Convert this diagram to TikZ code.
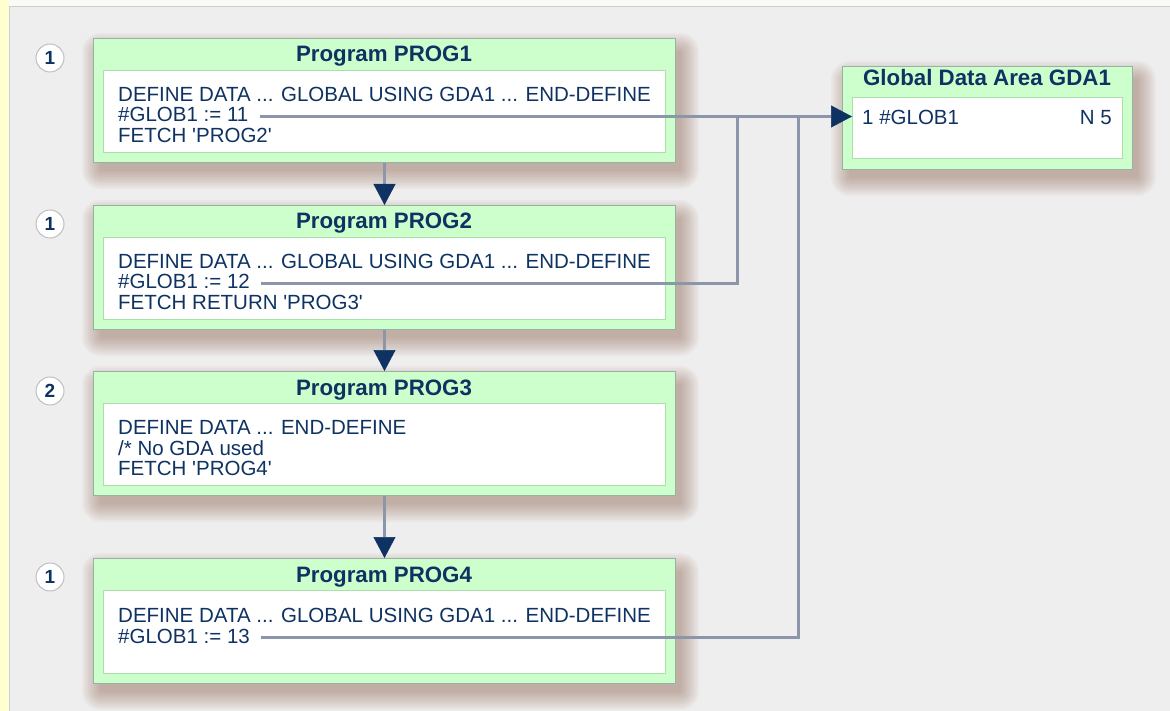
\documentclass[tikz,border=0pt]{standalone}
\usepackage{fontspec}
\setmainfont{Liberation Sans}
\usetikzlibrary{arrows.meta,calc}
\definecolor{boxfill}{RGB}{204,255,204}
\definecolor{boxborder}{RGB}{150,178,165}
\definecolor{innerborder}{RGB}{170,222,170}
\definecolor{navy}{RGB}{14,50,98}
\definecolor{linecol}{RGB}{140,150,170}
\definecolor{panelfill}{RGB}{238,238,238}
\definecolor{panelborder}{RGB}{205,205,212}
\definecolor{stripcol}{RGB}{255,255,208}
\definecolor{topcol}{RGB}{250,250,246}
\definecolor{shadowcol}{RGB}{125,70,50}
\pgfdeclarelayer{bg}
\pgfdeclarelayer{shadow}
\pgfsetlayers{bg,shadow,main}
\tikzset{
  prog/.style={draw=boxborder, fill=boxfill, line width=1pt, anchor=north west, inner sep=0pt},
  innerbox/.style={draw=innerborder, fill=white, line width=1pt, anchor=north west, inner sep=0pt},
  codeline/.style={font=\fontsize{20.5}{21}\selectfont, text=navy, inner sep=0pt, anchor=base west, text height=15pt, text depth=4pt},
  titletext/.style={font=\bfseries\fontsize{22.3}{24}\selectfont, text=navy, inner sep=0pt, anchor=base},
  num/.style={circle, draw=gray!50, fill=white, line width=1pt, minimum size=28pt, inner sep=0pt, font=\bfseries\fontsize{19}{20}\selectfont, text=navy},
  conn/.style={draw=linecol, line width=3pt},
  arr/.style={conn, -{Triangle[length=21pt,width=22pt,line width=0.5pt,color=navy]}}
}
\newcommand\myshadow[1]{%
  \foreach \r in {18,16,14,12,10,8,6,4,2,0}{
    \fill[shadowcol, opacity=0.045, rounded corners=\r pt+1pt]
      ($(#1.north west)+(7-\r,13-\r)$) rectangle ($(#1.south east)+(5+\r,8+\r)$);
  }%
}
\begin{document}
\begin{tikzpicture}[x=1pt,y=-1pt]
\useasboundingbox (0,0) rectangle (1170,711);
\begin{pgfonlayer}{bg}
  \fill[topcol] (0,0) rectangle (1170,711);
  \fill[stripcol] (0,0) rectangle (9,711);
  \filldraw[fill=panelfill, draw=panelborder, line width=1.2pt] (9.5,6.5) rectangle (1175,716);
\end{pgfonlayer}

% PROG1
\node[prog, minimum width=582pt, minimum height=124pt] (p1) at (93,38) {};
\node[innerbox, minimum width=562pt, minimum height=82pt] (p1in) at (103,70) {};
\node[titletext] (p1t) at (384,62) {Program PROG1};
\node[codeline] (p1a) at (118,101.5) {DEFINE DATA ... GLOBAL USING GDA1 ... END-DEFINE};
\node[codeline] (p1b) at (118,122) {\#GLOB1 := 11};
\node[codeline] (p1c) at (118,142.5) {FETCH \textquotesingle PROG2\textquotesingle};
\node[num] (n1) at (50,58) {1};

% PROG2
\node[prog, minimum width=582pt, minimum height=124pt] (p2) at (93,205) {};
\node[innerbox, minimum width=562pt, minimum height=82pt] (p2in) at (103,237) {};
\node[titletext] (p2t) at (384,229) {Program PROG2};
\node[codeline] (p2a) at (118,268.5) {DEFINE DATA ... GLOBAL USING GDA1 ... END-DEFINE};
\node[codeline] (p2b) at (118,289) {\#GLOB1 := 12};
\node[codeline] (p2c) at (118,309.5) {FETCH RETURN \textquotesingle PROG3\textquotesingle};
\node[num] (n2) at (50,224) {1};

% PROG3
\node[prog, minimum width=582pt, minimum height=124pt] (p3) at (93,371) {};
\node[innerbox, minimum width=562pt, minimum height=82pt] (p3in) at (103,403) {};
\node[titletext] (p3t) at (384,395) {Program PROG3};
\node[codeline] (p3a) at (118,434.5) {DEFINE DATA ... END-DEFINE};
\node[codeline] (p3b) at (118,455) {/* No GDA used};
\node[codeline] (p3c) at (118,475.5) {FETCH \textquotesingle PROG4\textquotesingle};
\node[num] (n3) at (50,391) {2};

% PROG4
\node[prog, minimum width=582pt, minimum height=125pt] (p4) at (93,558) {};
\node[innerbox, minimum width=562pt, minimum height=83pt] (p4in) at (103,590) {};
\node[titletext] (p4t) at (384,582) {Program PROG4};
\node[codeline] (p4a) at (118,622.5) {DEFINE DATA ... GLOBAL USING GDA1 ... END-DEFINE};
\node[codeline] (p4b) at (118,643) {\#GLOB1 := 13};
\node[num] (n4) at (50,577) {1};

% GDA1
\node[prog, minimum width=290pt, minimum height=103pt] (g) at (842,66) {};
\node[innerbox, minimum width=270pt, minimum height=61pt] (gin) at (852,97) {};
\node[titletext] (gt) at (987,86) {Global Data Area GDA1};
\node[codeline] (ga) at (862,124.5) {1 \#GLOB1};
\node[codeline, anchor=base east] (gb) at (1112,124.5) {N 5};

\begin{pgfonlayer}{shadow}
  \myshadow{p1}
  \myshadow{p2}
  \myshadow{p3}
  \myshadow{p4}
  \myshadow{g}
\end{pgfonlayer}

% turning points
\coordinate (c1) at (737,283);
\coordinate (c2) at (798,637);

% connectors
\draw[arr] ([xshift=11pt]p1b.east) -- (p1b.east -| gin.west);
\draw[conn] ([xshift=11pt]p2b.east) -- (p2b.east -| c1) -- (p1b.east -| c1);
\draw[conn] ([xshift=11pt]p4b.east) -- (p4b.east -| c2) -- (p1b.east -| c2);
\draw[arr] (p1.south) -- (p2.north);
\draw[arr] (p2.south) -- (p3.north);
\draw[arr] (p3.south) -- (p4.north);
\end{tikzpicture}
\end{document}
